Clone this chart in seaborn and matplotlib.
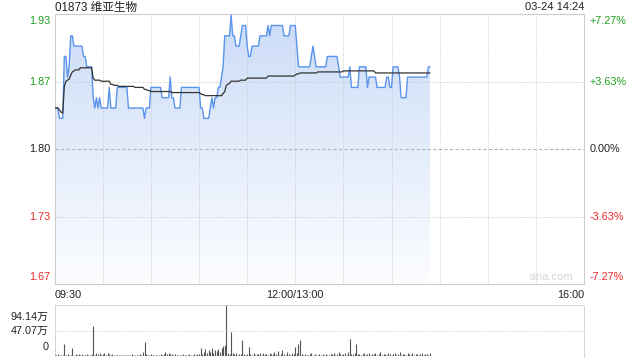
import numpy as np
import pandas as pd
import matplotlib
matplotlib.use("Agg")
import matplotlib.pyplot as plt
import matplotlib.transforms as mtrans
from matplotlib.colors import LinearSegmentedColormap
import seaborn as sns

title = "01873 维亚生物"
stamp = "03-24 14:24"
prev_close = 1.80
pct_levels = [7.27, 3.63, 0.0, -3.63, -7.27]
left_labels = ["1.93", "1.87", "1.80", "1.73", "1.67"]
right_labels = ["+7.27%", "+3.63%", "0.00%", "-3.63%", "-7.27%"]
label_colors = ["#1ea01e", "#1ea01e", "#222222", "#f02828", "#f02828"]
time_labels = ["09:30", "12:00/13:00", "16:00"]
time_pos = [0, 150, 330]
vol_labels = ["94.14万", "47.07万", "0"]
vol_levels = [94.14, 47.07, 0.0]

price = [
    1.84, 1.84, 1.84, 1.83, 1.83, 1.83, 1.89, 1.89, 1.87, 1.88,
    1.91, 1.91, 1.90, 1.90, 1.90, 1.90, 1.90, 1.90, 1.89, 1.89,
    1.88, 1.88, 1.88, 1.88, 1.85, 1.84, 1.85, 1.84, 1.85, 1.84,
    1.84, 1.84, 1.84, 1.84, 1.86, 1.84, 1.84, 1.84, 1.84, 1.86,
    1.86, 1.86, 1.86, 1.86, 1.86, 1.86, 1.84, 1.84, 1.84, 1.84,
    1.84, 1.84, 1.84, 1.84, 1.84, 1.84, 1.83, 1.84, 1.84, 1.84,
    1.86, 1.86, 1.86, 1.86, 1.86, 1.86, 1.86, 1.85, 1.85, 1.85,
    1.85, 1.85, 1.87, 1.85, 1.85, 1.84, 1.84, 1.84, 1.84, 1.86,
    1.86, 1.86, 1.86, 1.86, 1.86, 1.86, 1.86, 1.86, 1.86, 1.86,
    1.86, 1.84, 1.84, 1.83, 1.83, 1.83, 1.83, 1.84, 1.85, 1.84,
    1.85, 1.85, 1.86, 1.86, 1.87, 1.88, 1.91, 1.91, 1.91, 1.91,
    1.93, 1.91, 1.91, 1.90, 1.90, 1.90, 1.91, 1.92, 1.92, 1.92,
    1.90, 1.89, 1.89, 1.90, 1.90, 1.90, 1.90, 1.90, 1.91, 1.91,
    1.91, 1.91, 1.91, 1.92, 1.91, 1.92, 1.92, 1.92, 1.92, 1.92,
    1.92, 1.92, 1.92, 1.91, 1.91, 1.91, 1.91, 1.92, 1.92, 1.92,
    1.92, 1.90, 1.88, 1.88, 1.88, 1.88, 1.88, 1.88, 1.88, 1.88,
    1.89, 1.90, 1.89, 1.88, 1.88, 1.88, 1.88, 1.88, 1.88, 1.88,
    1.89, 1.89, 1.89, 1.89, 1.89, 1.89, 1.89, 1.88, 1.87, 1.87,
    1.87, 1.87, 1.87, 1.87, 1.88, 1.86, 1.86, 1.86, 1.86, 1.86,
    1.88, 1.88, 1.88, 1.88, 1.88, 1.86, 1.87, 1.87, 1.87, 1.87,
    1.87, 1.86, 1.86, 1.86, 1.86, 1.86, 1.86, 1.87, 1.87, 1.86,
    1.86, 1.88, 1.88, 1.88, 1.88, 1.87, 1.85, 1.85, 1.85, 1.85,
    1.87, 1.87, 1.87, 1.87, 1.87, 1.87, 1.87, 1.87, 1.87, 1.87,
    1.87, 1.87, 1.87, 1.88, 1.88,
]

avg = [
    1.840, 1.840, 1.840, 1.838, 1.836, 1.835, 1.861, 1.866, 1.867, 1.868,
    1.872, 1.875, 1.876, 1.877, 1.877, 1.877, 1.879, 1.879, 1.879, 1.879,
    1.879, 1.879, 1.879, 1.879, 1.869, 1.867, 1.867, 1.867, 1.867, 1.866,
    1.866, 1.866, 1.866, 1.866, 1.866, 1.863, 1.863, 1.862, 1.862, 1.862,
    1.861, 1.861, 1.861, 1.861, 1.861, 1.861, 1.861, 1.861, 1.861, 1.861,
    1.860, 1.860, 1.860, 1.860, 1.860, 1.860, 1.858, 1.858, 1.857, 1.857,
    1.856, 1.856, 1.856, 1.856, 1.856, 1.856, 1.856, 1.856, 1.856, 1.856,
    1.856, 1.856, 1.856, 1.855, 1.855, 1.855, 1.855, 1.855, 1.855, 1.855,
    1.855, 1.855, 1.855, 1.855, 1.855, 1.855, 1.855, 1.855, 1.855, 1.855,
    1.855, 1.854, 1.853, 1.853, 1.852, 1.852, 1.852, 1.852, 1.852, 1.852,
    1.852, 1.852, 1.852, 1.852, 1.852, 1.854, 1.856, 1.862, 1.863, 1.864,
    1.866, 1.866, 1.866, 1.866, 1.866, 1.866, 1.867, 1.867, 1.867, 1.867,
    1.869, 1.869, 1.869, 1.869, 1.869, 1.869, 1.869, 1.869, 1.869, 1.869,
    1.869, 1.869, 1.869, 1.871, 1.871, 1.871, 1.871, 1.871, 1.871, 1.871,
    1.871, 1.871, 1.871, 1.871, 1.871, 1.871, 1.871, 1.871, 1.871, 1.871,
    1.872, 1.873, 1.873, 1.874, 1.874, 1.874, 1.874, 1.874, 1.874, 1.874,
    1.874, 1.874, 1.874, 1.874, 1.875, 1.875, 1.875, 1.875, 1.875, 1.875,
    1.875, 1.875, 1.875, 1.875, 1.875, 1.875, 1.875, 1.875, 1.875, 1.875,
    1.876, 1.876, 1.876, 1.876, 1.876, 1.876, 1.876, 1.876, 1.876, 1.876,
    1.876, 1.876, 1.876, 1.876, 1.876, 1.876, 1.876, 1.876, 1.876, 1.876,
    1.874, 1.874, 1.874, 1.874, 1.874, 1.874, 1.874, 1.874, 1.874, 1.874,
    1.874, 1.874, 1.874, 1.874, 1.874, 1.874, 1.874, 1.874, 1.874, 1.874,
    1.874, 1.874, 1.874, 1.874, 1.874, 1.874, 1.874, 1.874, 1.874, 1.874,
    1.874, 1.874, 1.874, 1.874, 1.874,
]

volume = [
    3, 2, 3, 1, 2, 1, 21.6, 2, 3, 1,
    2, 14, 2, 3, 1, 4, 2, 3, 1, 2,
    3, 1, 2, 4, 55.4, 2, 5, 3, 6, 2,
    4, 6, 2, 5, 3, 2, 3, 1, 2, 1,
    2, 1, 1, 2, 1, 2, 1, 2, 3, 1,
    2, 1, 2, 3, 2, 8, 26.5, 3, 1, 2,
    4, 1, 2, 1, 2, 1, 3, 2, 4, 7,
    3, 5, 4, 3, 2, 4, 1, 2, 1, 2,
    3, 1, 2, 1, 4, 2, 1, 3, 2, 3,
    4, 15, 3, 8, 13, 5, 11, 7, 14, 6,
    11, 9, 12, 8, 14, 18, 20, 94.14, 6, 4,
    45, 5, 3, 5, 2, 3, 4, 29.5, 3, 2,
    4, 17, 3, 2, 5, 2, 4, 3, 5, 2,
    6, 3, 4, 2, 5, 3, 4, 8, 3, 9,
    2, 4, 11, 3, 2, 8, 3, 2, 5, 4,
    17, 6, 23, 29.5, 4, 2, 3, 1, 2, 4,
    5, 2, 3, 1, 2, 3, 1, 4, 2, 3,
    1, 2, 4, 3, 5, 2, 3, 7, 4, 2,
    3, 5, 2, 8, 31, 4, 3, 6, 21.5, 3,
    3, 2, 4, 5, 2, 3, 6, 2, 4, 3,
    5, 2, 3, 7, 2, 4, 3, 2, 6, 3,
    2, 4, 5, 2, 3, 8, 2, 3, 4, 2,
    5, 3, 2, 6, 2, 3, 4, 2, 3, 5,
    2, 4, 3, 2, 5,
]

n = len(price)
minutes = np.arange(n)
df = pd.DataFrame({"minute": minutes, "price": price, "avg": avg[:n], "volume": volume[:n]})

sns.set_style("white")
plt.rcParams["font.family"] = ["Liberation Sans", "Noto Sans CJK SC", "DejaVu Sans"]

W, H = 640, 360
fig = plt.figure(figsize=(6.4, 3.6), dpi=100)
L, R = 54.7, 584.0
T, B = 14.3, 284.3
ax = fig.add_axes([L / W, (H - B) / H, (R - L) / W, (B - T) / H])
vax = fig.add_axes([L / W, (H - 356) / H, (R - L) / W, 51 / H])

ylo = prev_close * (1 - 0.0727)
yhi = prev_close * (1 + 0.0727)

# gradient area under price
poly = ax.fill_between(df["minute"], df["price"], ylo, facecolor="none", edgecolor="none")
grad = np.linspace(1, 0, 256).reshape(-1, 1)
cmap = LinearSegmentedColormap.from_list("g", ["#fcfdff", "#cbdcf7"])
im = ax.imshow(grad, extent=[0, 330, ylo, yhi], aspect="auto", cmap=cmap,
               origin="upper", zorder=1, interpolation="bilinear")
im.set_clip_path(poly.get_paths()[0], transform=ax.transData)

# grid
for m in range(30, 330, 30):
    ax.axvline(m, color="#c8c8c8", lw=0.7, ls=(0, (1, 1.5)), zorder=2)
for p in pct_levels[1:4]:
    yv = prev_close * (1 + p / 100)
    if p == 0:
        ax.axhline(yv, color="#b4b4b4", lw=0.8, ls=(0, (3, 2)), zorder=2)
    else:
        ax.axhline(yv, color="#c8c8c8", lw=0.7, ls=(0, (1, 1.5)), zorder=2)

sns.lineplot(data=df, x="minute", y="price", ax=ax, color="#5a94ec", lw=1.0, zorder=4)
sns.lineplot(data=df, x="minute", y="avg", ax=ax, color="#333333", lw=0.9, zorder=5)

ax.set_xlim(0, 330)
ax.set_ylim(ylo, yhi)
ax.set_xticks([])
ax.set_yticks([])
ax.set_xlabel("")
ax.set_ylabel("")
for s in ax.spines.values():
    s.set_color("#cccccc")
    s.set_linewidth(0.8)

fs = 7.8
blend = mtrans.blended_transform_factory(ax.transAxes, ax.transData)
for i, (p, ll, rl, c) in enumerate(zip(pct_levels, left_labels, right_labels, label_colors)):
    yv = prev_close * (1 + p / 100)
    if i == 0:
        va, dy = "top", -1.4
    elif i == len(pct_levels) - 1:
        va, dy = "bottom", 1.4
    else:
        va, dy = "center", 0
    ax.annotate(ll, (0, yv), xycoords=blend, xytext=(-3.0, dy), textcoords="offset points",
                ha="right", va=va, color=c, fontsize=fs)
    ax.annotate(rl, (1, yv), xycoords=blend, xytext=(4.2, dy), textcoords="offset points",
                ha="left", va=va, color=c, fontsize=fs)

has = ["left", "center", "right"]
for t, pos, ha in zip(time_labels, time_pos, has):
    ax.text(pos, -0.04, t, transform=mtrans.blended_transform_factory(ax.transData, ax.transAxes),
            ha=ha, va="center", fontsize=fs, color="#222222")

ax.text(0.979, 0.009, "sina.com", transform=ax.transAxes, ha="right", va="bottom",
        fontsize=8, color="#d6d6d6")

fig.text(L / W, 1 - 7.5 / H, title, ha="left", va="center", fontsize=8.4, color="#222222")
fig.text(R / W, 1 - 7.5 / H, stamp, ha="right", va="center", fontsize=8.0, color="#222222")

# volume panel
vax.vlines(df["minute"], 0, df["volume"], color="#555555", lw=0.8)
vax.set_xlim(0, 330)
vax.set_ylim(0, 94.14)
vax.axhline(47.07, color="#c8c8c8", lw=0.7, ls=(0, (1, 1.5)))
vax.set_xticks([])
vax.set_yticks([])
for s in vax.spines.values():
    s.set_color("#c8c8c8")
    s.set_linewidth(0.7)
    s.set_linestyle((0, (1, 1.5)))
vax.spines["bottom"].set_visible(False)
vax_pos = [0.765, 0.5, 0.167]
for lab, yp in zip(vol_labels, vax_pos):
    vax.text(-0.012, yp, lab, transform=vax.transAxes, ha="right", va="center",
             fontsize=fs, color="#222222")

fig.savefig("out.png", dpi=100)
